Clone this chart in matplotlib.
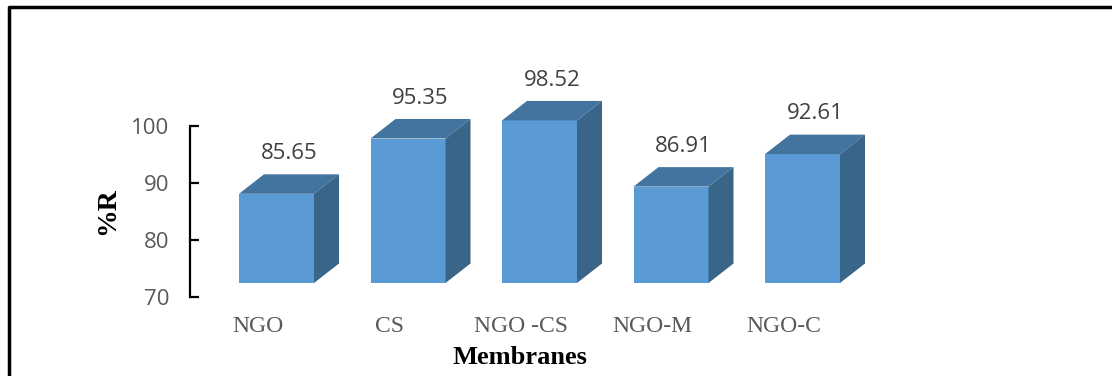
import numpy as np
import matplotlib.pyplot as plt
from matplotlib.patches import Polygon
from matplotlib.lines import Line2D
from matplotlib.transforms import ScaledTranslation

membranes = ["NGO", "CS", "NGO -CS", "NGO-M", "NGO-C"]
rejection = [85.65, 95.35, 98.52, 86.91, 92.61]
yticks = [70, 80, 90, 100]

front_col = "#5b9bd5"
top_col = "#43749f"
side_col = "#396588"

W, H = 1112, 376
fig = plt.figure(figsize=(W / 100, H / 100), dpi=100)

# axes box in pixels: value axis runs x=190, y from 297 (70) up to 126 (100)
ax_l, ax_r, ax_b, ax_t = 190, 850, 297, 126
ax = fig.add_axes([ax_l / W, (H - ax_b) / H, (ax_r - ax_l) / W, (ax_b - ax_t) / H])

step = 131.5          # px between bar centres
x0_px = 276.5         # px of first bar centre
ax.set_xlim((ax_l - x0_px) / step, (ax_r - x0_px) / step)
ax.set_ylim(70, 100)

bar_w = 75 / step
# depth of the boxes, in data units (25 px right, 19.5 px up)
px_y = (ax_b - ax_t) / 30.0
dx = 25 / step
dy = 19.5 / px_y

# front faces sit 14 px above the axis floor
front = ax.transData + ScaledTranslation(0, 14 / 100, fig.dpi_scale_trans)

x = np.arange(len(membranes))
ax.bar(x, np.array(rejection) - 70, bottom=70, width=bar_w, color=front_col,
       transform=front, clip_on=False, zorder=3)

for xi, v in zip(x, rejection):
    l, r = xi - bar_w / 2, xi + bar_w / 2
    top = Polygon([(l, v), (r, v), (r + dx, v + dy), (l + dx, v + dy)],
                  closed=True, facecolor=top_col, edgecolor="none",
                  transform=front, clip_on=False, zorder=3)
    side = Polygon([(r, 70), (r + dx, 70 + dy), (r + dx, v + dy), (r, v)],
                   closed=True, facecolor=side_col, edgecolor="none",
                   transform=front, clip_on=False, zorder=3)
    ax.add_patch(top)
    ax.add_patch(side)
    ax.annotate(f"{v:.2f}", xy=(xi + dx / 2, v + dy), xycoords=front,
                xytext=(0, 15), textcoords="offset points",
                ha="center", va="center", fontsize=16, color="#404040",
                family="Open Sans", annotation_clip=False)

for s in ["top", "right", "bottom"]:
    ax.spines[s].set_visible(False)
ax.spines["left"].set_linewidth(1.6)
ax.spines["left"].set_color("black")

ax.set_yticks(yticks)
ax.tick_params(axis="y", direction="in", length=6.5, width=1.6, pad=15,
               labelsize=16, labelcolor="#595959")
for t in ax.get_yticklabels():
    t.set_family("Open Sans")

ax.set_xticks(x - 19 / step)
ax.set_xticklabels(membranes, family="Liberation Serif", fontsize=17,
                   color="#595959")
ax.tick_params(axis="x", length=0, pad=14)

ax.set_ylabel("%R", family="Liberation Serif", fontweight="bold",
              fontsize=20, labelpad=8)
ax.set_xlabel("Membranes", family="Liberation Serif", fontweight="bold",
              fontsize=19, labelpad=6)

# frame round the chart area (left and top edges)
fig.add_artist(Line2D([9 / W, 9 / W, 1], [0, 1 - 7 / H, 1 - 7 / H],
                      transform=fig.transFigure, color="black", lw=2.5))

fig.savefig("out.png", dpi=100)
